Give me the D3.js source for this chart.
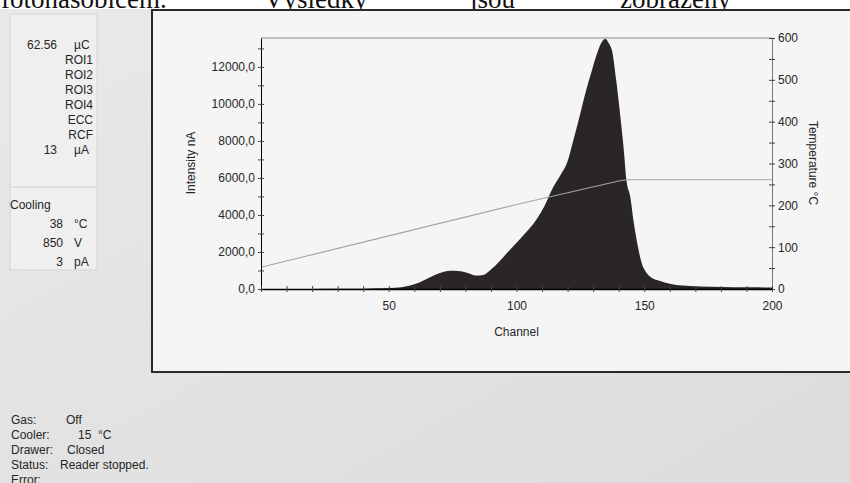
<!DOCTYPE html>
<html>
<head>
<meta charset="utf-8">
<script src="https://cdn.jsdelivr.net/npm/d3@7"></script>
<style>
  body { margin: 0; background: #fff; }
  svg { display: block; }
  text { font-family: "Liberation Sans", Arial, sans-serif; fill: #262626; }
  .serif { font-family: "Liberation Serif", "Times New Roman", serif; fill: #111; }
</style>
</head>
<body>
<svg id="chart" width="850" height="483"></svg>
<script>
// ── glow curve (channel → intensity nA)
const channels  = [0, 10, 20, 30, 40, 45, 50, 55, 58, 62, 66, 70, 74, 78, 81, 84, 87, 90, 93, 96, 99,
                   102, 105, 108, 111, 114, 117, 120, 122, 125, 127, 129.5, 131, 133, 134.8, 136, 137.5,
                   139, 140.5, 142, 143, 144.5, 146, 147.5, 149, 151, 153, 155, 158, 162, 168, 176, 185, 192, 200];
const intensity = [0, 0, 5, 10, 20, 40, 60, 100, 180, 350, 620, 860, 980, 960, 860, 730, 760, 1050, 1450, 1900, 2350,
                   2800, 3250, 3800, 4500, 5400, 6100, 6900, 7900, 9500, 10600, 11800, 12500, 13250, 13520, 13300, 12800,
                   11300, 9500, 7500, 5900, 5000, 3500, 2300, 1400, 850, 600, 480, 350, 230, 160, 120, 100, 90, 80];

// ── heating profile (channel → °C)
const tempChannels = [0, 50, 100, 140, 143, 200];
const temperature  = [52, 127, 202, 258, 261, 261];

// ── ticks
const intensityTicks = d3.range(0, 13001, 1000);
const intensityLabels = [0, 2000, 4000, 6000, 8000, 10000, 12000];
const tempTicks = d3.range(0, 601, 50);
const tempLabels = [0, 100, 200, 300, 400, 500, 600];
const channelTicks = d3.range(0, 201, 10);
const channelLabels = [50, 100, 150, 200];

// ── side panel texts
const panelValues = [["62.56", "µC", 49, 57], ["13", "µA", 154, 57], ["38", "°C", 228, 63], ["850", "V", 247, 63], ["3", "pA", 266, 63]];
const panelNames  = [["ROI1", 64], ["ROI2", 79], ["ROI3", 94], ["ROI4", 109], ["ECC", 124], ["RCF", 139]];
const statusRows  = [["Gas:", "Off"], ["Cooler:", "15  °C"], ["Drawer:", "Closed"], ["Status:", "Reader stopped."], ["Error:", ""]];
const statusX     = [66, 78, 67, 60, 60];
const headerWords = [["fotonásobičem.", 1], ["Výsledky", 264], ["jsou", 470], ["zobrazeny", 620]];

const svg = d3.select('#chart');

// ──────────────  page / screenshot background
const grad = svg.append('defs').append('linearGradient')
  .attr('id', 'paper').attr('x1', 0).attr('y1', 0).attr('x2', 1).attr('y2', 1);
grad.append('stop').attr('offset', '0%').attr('stop-color', '#e9e9e9');
grad.append('stop').attr('offset', '100%').attr('stop-color', '#dcdcdc');

svg.append('rect').attr('x', 0).attr('y', 9).attr('width', 850).attr('height', 474).attr('fill', 'url(#paper)');

// header line of the document, mostly cut off
svg.append('g').selectAll('text').data(headerWords).join('text')
  .attr('class', 'serif')
  .attr('x', d => d[1]).attr('y', 8)
  .style('font-size', '27px')
  .text(d => d[0]);

// left info panel
svg.append('rect').attr('x', 10).attr('y', 14).attr('width', 87).attr('height', 256)
  .attr('fill', '#efefef').attr('stroke', '#d4d4d4');
svg.append('line').attr('x1', 10).attr('x2', 97).attr('y1', 187).attr('y2', 187).attr('stroke', '#d0d0d0');

const panel = svg.append('g').style('font-size', '12px');
panelValues.forEach(([v, u, y, rx]) => {
  panel.append('text').attr('x', rx).attr('y', y).attr('text-anchor', 'end').text(v);
  panel.append('text').attr('x', 74).attr('y', y).text(u);
});
panelNames.forEach(([n, y]) => {
  panel.append('text').attr('x', 93).attr('y', y).attr('text-anchor', 'end').text(n);
});
panel.append('text').attr('x', 10).attr('y', 209).text('Cooling');

const status = svg.append('g').style('font-size', '12px');
statusRows.forEach(([k, v], i) => {
  const y = 424 + i * 15;
  status.append('text').attr('x', 11).attr('y', y).text(k);
  status.append('text').attr('x', statusX[i]).attr('y', y).attr('xml:space', 'preserve').style('white-space', 'pre').text(v);
});

// chart frame
svg.append('rect').attr('x', 152).attr('y', 10).attr('width', 720).attr('height', 362)
  .attr('fill', '#f5f5f5').attr('stroke', '#2a2a2a').attr('stroke-width', 2);

// ──────────────  scales
const x  = d3.scaleLinear().domain([0, 200]).range([261, 772]);
const yL = d3.scaleLinear().domain([0, 13560]).range([289, 38]);
const yR = d3.scaleLinear().domain([0, 600]).range([289, 38]);

// top border of plot
svg.append('line').attr('x1', x(0)).attr('x2', x(200)).attr('y1', 38).attr('y2', 38)
  .attr('stroke', '#8a8a8a').attr('stroke-width', 1.2);

// glow curve
const glow = d3.zip(channels, intensity);
const area = d3.area()
  .x(d => x(d[0])).y0(yL(0)).y1(d => yL(d[1]))
  .curve(d3.curveMonotoneX);
svg.append('path').datum(glow).attr('d', area).attr('fill', '#2a2625');

// temperature
const temp = d3.zip(tempChannels, temperature);
const line = d3.line().x(d => x(d[0])).y(d => yR(d[1]));
svg.append('path').datum(temp).attr('d', line)
  .attr('fill', 'none').attr('stroke', '#a4a4a4').attr('stroke-width', 1.1);

// ──────────────  axes
const fmtInt = v => intensityLabels.includes(v) ? d3.format('.1f')(v).replace('.', ',') : '';
const gL = svg.append('g').attr('transform', `translate(${x(0)},0)`)
  .call(d3.axisLeft(yL).tickValues(intensityTicks).tickFormat(fmtInt).tickSize(3).tickSizeOuter(0).tickPadding(3));
gL.selectAll('.tick line').attr('x1', 3);

const gR = svg.append('g').attr('transform', `translate(${x(200)},0)`)
  .call(d3.axisRight(yR).tickValues(tempTicks).tickFormat(v => tempLabels.includes(v) ? v : '').tickSize(3).tickSizeOuter(0).tickPadding(3));
gR.selectAll('.tick line').attr('x1', -3);
gR.select('.domain').attr('stroke', '#777');

const gX = svg.append('g').attr('transform', `translate(0,${yL(0)})`)
  .call(d3.axisBottom(x).tickValues(channelTicks).tickFormat(v => channelLabels.includes(v) ? v : '').tickSize(3).tickSizeOuter(0).tickPadding(9));
gX.selectAll('.tick line').attr('y1', -3);
gX.select('.domain').attr('stroke-width', 1.4);

[gL, gR, gX].forEach(g => {
  g.selectAll('text').style('font-family', '"Liberation Sans", Arial, sans-serif').style('font-size', '12px').attr('fill', '#333');
  g.selectAll('line').attr('stroke', '#444');
});

// axis titles
svg.append('text').attr('x', x(100)).attr('y', 336).attr('text-anchor', 'middle').style('font-size', '12px').text('Channel');
svg.append('text').attr('transform', 'translate(195,163) rotate(-90)').attr('text-anchor', 'middle')
  .style('font-size', '12px').text('Intensity nA');
svg.append('text').attr('transform', 'translate(809,163) rotate(90)').attr('text-anchor', 'middle')
  .style('font-size', '12px').text('Temperature °C');
</script>
</body>
</html>
